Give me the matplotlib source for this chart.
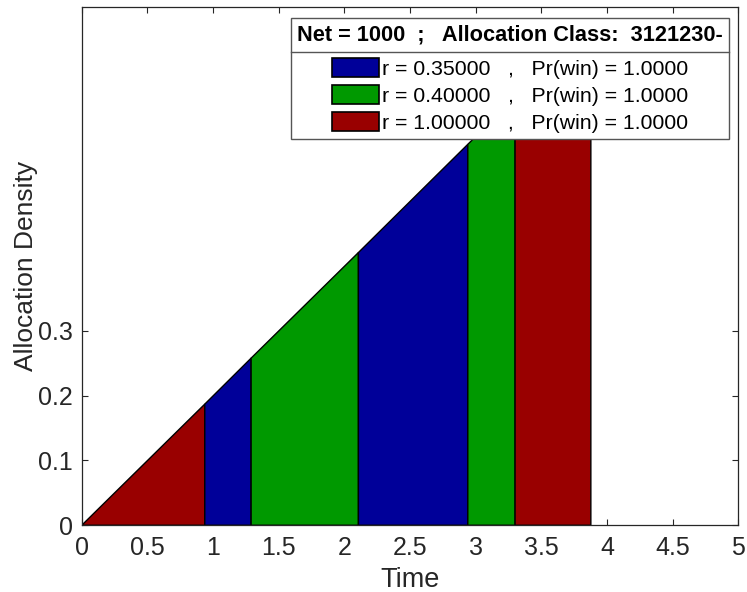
import numpy as np
import matplotlib
matplotlib.use('Agg')
import matplotlib.pyplot as plt
from matplotlib.patches import Patch
from matplotlib.lines import Line2D
from matplotlib.ticker import FuncFormatter

plt.rcParams['font.family'] = ['Liberation Sans', 'DejaVu Sans']

# Segment boundaries in time and the density at each boundary
t_edges = [0.0, 0.937, 1.290, 2.107, 2.940, 3.300, 3.877]
dens_edges = [0.0, 0.187, 0.258, 0.421, 0.588, 0.660, 0.775]
seg_class = [2, 0, 1, 0, 1, 2]   # index into classes for each segment

class_r = [0.35, 0.40, 1.00]
class_pwin = [1.0, 1.0, 1.0]
class_colors = ['#000099', '#009900', '#990000']

net = 1000
alloc_class = '3121230-'

fig = plt.figure(figsize=(7.47, 5.92), dpi=100)
ax = fig.add_axes([0.1094, 0.1127, 0.879, 0.8755])

for i, c in enumerate(seg_class):
    x0, x1 = t_edges[i], t_edges[i + 1]
    y0, y1 = dens_edges[i], dens_edges[i + 1]
    ax.fill([x0, x0, x1, x1], [0, y0, y1, 0], facecolor=class_colors[c],
            edgecolor='black', linewidth=1.0, zorder=2)

ax.set_xlim(0, 5)
ax.set_ylim(0, 0.8)
ax.set_xticks(np.arange(0, 5.01, 0.5))
ax.set_yticks([0, 0.1, 0.2, 0.3])
fmt = FuncFormatter(lambda v, p: '%g' % v)
ax.xaxis.set_major_formatter(fmt)
ax.yaxis.set_major_formatter(fmt)
ax.tick_params(direction='in', top=True, right=True, length=4.5, width=0.8,
               labelsize=18, colors='#262626')
ax.tick_params(axis='x', pad=7.5)
ax.tick_params(axis='y', pad=6.5)
for s in ax.spines.values():
    s.set_color('#262626')
    s.set_linewidth(0.9)
    s.set_zorder(5)

ax.set_xlabel('Time', fontsize=19.5, color='#262626', labelpad=5)
ax.set_ylabel('Allocation Density', fontsize=19, color='#262626', labelpad=0)

handles = [Patch(facecolor=class_colors[k], edgecolor='black', linewidth=1.2)
           for k in range(len(class_r))]
labels = ['r = %.5f   ,   Pr(win) = %.4f' % (class_r[k], class_pwin[k])
          for k in range(len(class_r))]
title = 'Net = %d  ;   Allocation Class:  %s' % (net, alloc_class)

leg = ax.legend(handles, labels, title=title, loc='upper right',
                bbox_to_anchor=(0.986, 0.978), fontsize=15.3, fancybox=False,
                framealpha=1, edgecolor='#555555', handlelength=2.2,
                handleheight=1.0, handletextpad=0.15, labelspacing=0.3,
                borderpad=0.28, alignment='center', borderaxespad=0)
leg.get_title().set_fontsize(15.7)
leg.get_title().set_fontweight('bold')
leg.get_frame().set_linewidth(1.0)
leg.set_zorder(10)
leg._legend_box.sep = 9   # extra room between title and entries

# Separator between legend title and entries
fig.canvas.draw()
renderer = fig.canvas.get_renderer()
inv = fig.transFigure.inverted()
lb = leg.get_window_extent(renderer)
tb = leg.get_title().get_window_extent(renderer)
hb = leg._legend_handle_box.get_window_extent(renderer)
ysep = 0.5 * (tb.y0 + hb.y1)
(x0f, yf), (x1f, _) = inv.transform([(lb.x0, ysep), (lb.x1, ysep)])
fig.add_artist(Line2D([x0f, x1f], [yf, yf], color='#555555', linewidth=1.0,
                      zorder=11))

plt.savefig('out.png', dpi=100)
